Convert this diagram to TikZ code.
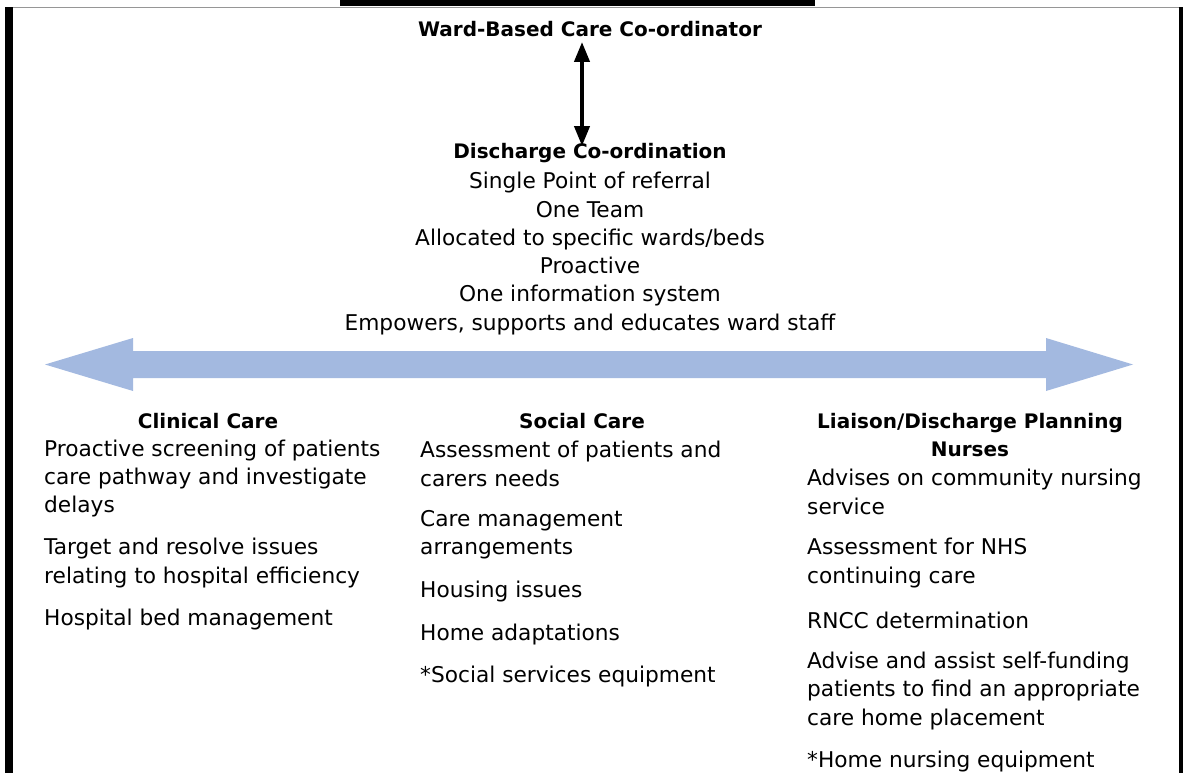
\documentclass[tikz,border=0pt]{standalone}
\usepackage{fontspec}
\setmainfont{DejaVu Sans}
\usetikzlibrary{arrows.meta}
\definecolor{bandblue}{RGB}{163,185,224}
\definecolor{rulegray}{RGB}{150,150,150}
\tikzset{
  body/.style={font=\fontsize{21.7}{28.3}\selectfont, inner sep=0pt, align=left, anchor=west},
  centred/.style={font=\fontsize{21.7}{28.3}\selectfont, inner sep=0pt, align=center},
  head/.style={font=\fontsize{20}{28.3}\selectfont\bfseries, inner sep=0pt, align=center},
  link/.style={line width=4pt, {Triangle[width=15pt,length=20pt]}-{Triangle[width=15pt,length=20pt]}}
}
\begin{document}
\begin{tikzpicture}[x=1pt,y=-1pt]
\useasboundingbox (0,0) rectangle (1183,773);
% frame pieces
\fill[black] (340,0) rectangle (815,6);
\draw[rulegray, line width=1pt] (5,7.5) -- (1179,7.5);
\fill[black] (5,7) rectangle (13,773);
\fill[black] (1179,7) rectangle (1183,773);

% top block
\node[head] (ward) at (590,29) {Ward-Based Care Co-ordinator};
\node[head] (dchead) at (590,153) {Discharge Co-ordination};
\node[centred] (dc) at (590,253.5) {Single Point of referral\\One Team\\Allocated to specific wards/beds\\Proactive\\One information system\\Empowers, supports and educates ward staff};
\coordinate (ax) at (582,0);
\draw[link] ([yshift=-5pt]ward.south -| ax) -- ([yshift=-3pt]dchead.north -| ax);

% broad two-way band
\fill[bandblue] (45,364.5) -- (133,338) -- (133,351) -- (1046,351) -- (1046,338) -- (1133,364.5)
  -- (1046,391) -- (1046,378) -- (133,378) -- (133,391) -- cycle;

% column headings
\node[head] (clin) at (208,421) {Clinical Care};
\node[head] (soc) at (582,421) {Social Care};
\node[head] (liai) at (970,435) {Liaison/Discharge Planning\\Nurses};

% clinical care column
\node[body] (c1) at (44,478.5) {Proactive screening of patients\\care pathway and investigate\\delays};
\node[body] (c2) at (44,563) {Target and resolve issues\\relating to hospital efficiency};
\node[body] (c3) at (44,620) {Hospital bed management};

% social care column
\node[body] (s1) at (420,464) {Assessment of patients and\\carers needs};
\node[body] (s2) at (420,535) {Care management\\arrangements};
\node[body] (s3) at (420,592) {Housing issues};
\node[body] (s4) at (420,635) {Home adaptations};
\node[body] (s5) at (420,677) {*Social services equipment};

% liaison column
\node[body] (l1) at (807,492) {Advises on community nursing\\service};
\node[body] (l2) at (807,563) {Assessment for NHS\\continuing care};
\node[body] (l3) at (807,620) {RNCC determination};
\node[body] (l4) at (807,691) {Advise and assist self-funding\\patients to find an appropriate\\care home placement};
\node[body] (l5) at (807,762) {*Home nursing equipment};
\end{tikzpicture}
\end{document}
